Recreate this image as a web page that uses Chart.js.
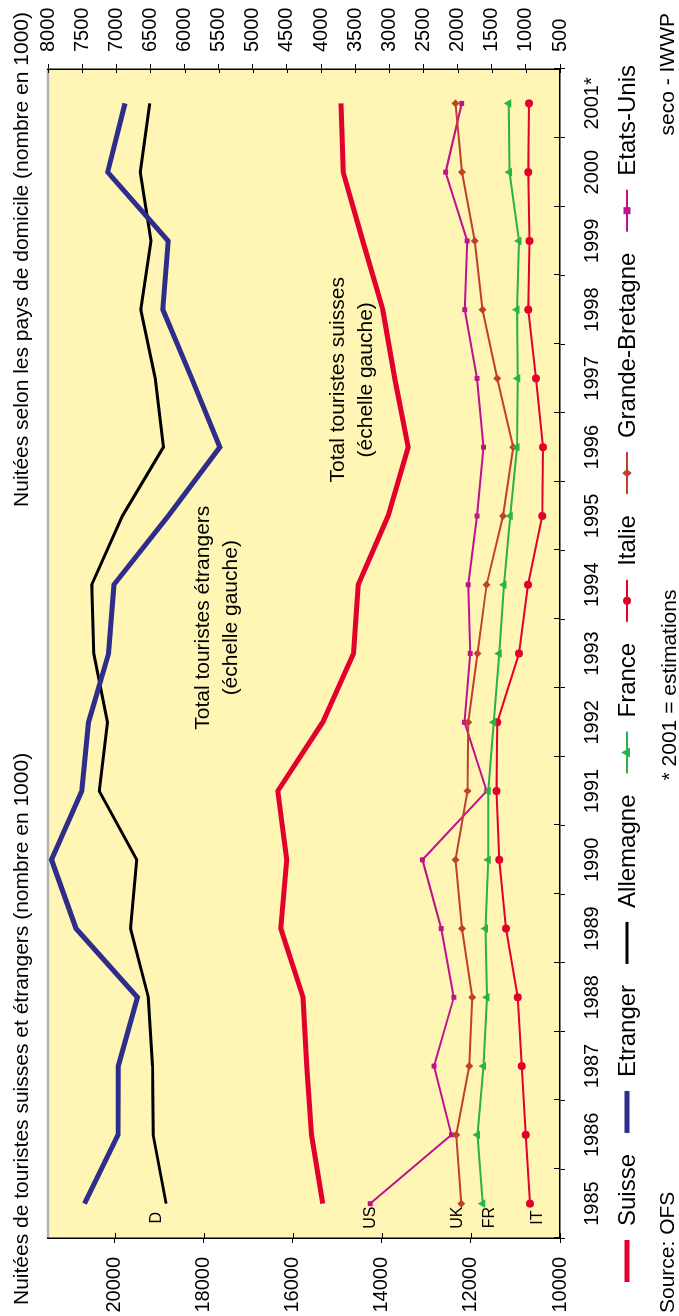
<!DOCTYPE html>
<html>
<head>
<meta charset="utf-8">
<script src="https://cdn.jsdelivr.net/npm/chart.js@4/dist/chart.umd.min.js"></script>
<style>
  html, body { margin: 0; padding: 0; background: #fff; overflow: hidden; }
  #wrap {
    position: absolute; left: 0; top: 0;
    width: 1316px; height: 679px;
    transform-origin: 0 0;
    transform: translateY(1316px) rotate(-90deg);
  }
  canvas { display: block; }
</style>
</head>
<body>
<div id="wrap"><canvas id="nuitees" width="1316" height="679" style="width:1316px;height:679px"></canvas></div>
<script>
const years = ["1985", "1986", "1987", "1988", "1989", "1990", "1991", "1992", "1993",
  "1994", "1995", "1996", "1997", "1998", "1999", "2000", "2001*"];

// left scale (total nights, 1000)
const suisse = [15330, 15580, 15690, 15770, 16270, 16140, 16340, 15330, 14640,
  14530, 13860, 13410, 13710, 13980, 14430, 14870, 14920];
const etranger = [20680, 19930, 19920, 19490, 20870, 21420, 20740, 20590, 20140,
  20020, 18800, 17640, 18270, 18920, 18800, 20160, 19770];

// right scale (by country of residence, 1000)
const allemagne = [6270, 6460, 6470, 6530, 6790, 6700, 7250, 7130, 7330,
  7360, 6910, 6310, 6430, 6640, 6490, 6650, 6510];
const france = [1630, 1710, 1620, 1570, 1590, 1550, 1550, 1470, 1390,
  1320, 1230, 1130, 1120, 1130, 1100, 1240, 1250];
const italie = [940, 1000, 1060, 1120, 1290, 1390, 1430, 1420, 1100,
  970, 760, 750, 850, 965, 945, 965, 955];
const grandeBretagne = [1945, 2020, 1830, 1785, 1935, 2030, 1855, 1845, 1710,
  1575, 1335, 1185, 1420, 1635, 1750, 1935, 2030];
const etatsUnis = [3280, 2090, 2345, 2055, 2240, 2515, 1575, 1900, 1815,
  1845, 1715, 1620, 1715, 1895, 1860, 2175, 1940];

const leftTicks = [10000, 12000, 14000, 16000, 18000, 20000];

const FONT = "'Liberation Sans', Arial, Helvetica, sans-serif";
const RED = "#e3002c";
const BLUE = "#2e2d8a";
const GREEN = "#2ab24a";
const BROWN = "#c0402e";
const MAGENTA = "#c0128c";

const notes = [
  { lines: ["Total touristes étrangers", "(échelle gauche)"], at: 8.52, value: 17690 },
  { lines: ["Total touristes suisses", "(échelle gauche)"], at: 11.98, value: 14670 },
];

function marker(ctx, style, x, y, r) {
  ctx.beginPath();
  if (style === "circle") {
    ctx.arc(x, y, r, 0, Math.PI * 2);
  } else if (style === "triangle") {
    ctx.moveTo(x, y - r * 1.15);
    ctx.lineTo(x + r, y + r * 0.6);
    ctx.lineTo(x - r, y + r * 0.6);
    ctx.closePath();
  } else if (style === "rectRot") {
    ctx.moveTo(x, y - r * 1.2);
    ctx.lineTo(x + r, y);
    ctx.lineTo(x, y + r * 1.2);
    ctx.lineTo(x - r, y);
    ctx.closePath();
  } else if (style === "rect") {
    ctx.rect(x - r, y - r, r * 2, r * 2);
  } else {
    return;
  }
  ctx.fill();
}

const decor = {
  id: "decor",
  beforeDraw(chart) {
    const { ctx, chartArea: a } = chart;
    ctx.save();
    ctx.fillStyle = "#fff";
    ctx.fillRect(0, 0, chart.width, chart.height);
    ctx.fillStyle = "#fff5b4";
    ctx.fillRect(a.left, a.top, a.right - a.left, a.bottom - a.top);
    ctx.strokeStyle = "#b4b4b4";
    ctx.lineWidth = 2.5;
    ctx.beginPath();
    ctx.moveTo(a.left, a.top);
    ctx.lineTo(a.right, a.top);
    ctx.stroke();
    ctx.restore();
  },
  afterDraw(chart) {
    const { ctx, chartArea: a, scales } = chart;
    ctx.save();

    // inner half of the crossing tick marks
    ctx.strokeStyle = "#000";
    ctx.lineWidth = 1;
    ctx.beginPath();
    for (let i = 0; i <= years.length; i++) {
      const x = Math.round(scales.x.getPixelForValue(i - 0.5)) + 0.5;
      ctx.moveTo(x, a.bottom);
      ctx.lineTo(x, a.bottom - 6);
    }
    scales.y.ticks.forEach(t => {
      const y = Math.round(scales.y.getPixelForValue(t.value)) + 0.5;
      ctx.moveTo(a.left, y);
      ctx.lineTo(a.left + 5, y);
    });
    scales.y1.ticks.forEach(t => {
      const y = Math.round(scales.y1.getPixelForValue(t.value)) + 0.5;
      ctx.moveTo(a.right, y);
      ctx.lineTo(a.right - 4, y);
    });
    ctx.stroke();

    ctx.fillStyle = "#000";
    ctx.textBaseline = "alphabetic";

    // titles
    ctx.font = "21px " + FONT;
    ctx.textAlign = "left";
    ctx.fillText("Nuitées de touristes suisses et étrangers (nombre en 1000)", 11, 28);
    ctx.textAlign = "right";
    ctx.fillText("Nuitées selon les pays de domicile (nombre en 1000)", 1304, 28);

    // notes inside the plot
    ctx.textAlign = "center";
    ctx.textBaseline = "middle";
    ctx.font = "21px " + FONT;
    notes.forEach(n => {
      const x = scales.x.getPixelForValue(n.at);
      const y = scales.y.getPixelForValue(n.value);
      ctx.fillText(n.lines[0], x, y - 14);
      ctx.fillText(n.lines[1], x, y + 14);
    });

    // series tags at the first point
    ctx.font = "16px " + FONT;
    chart.data.datasets.forEach((ds, i) => {
      if (!ds.tag) return;
      const p = chart.getDatasetMeta(i).data[0];
      ctx.fillText(ds.tag, p.x - 14, p.y + ds.tagDy);
    });

    // legend
    ctx.font = "24px " + FONT;
    ctx.textAlign = "left";
    let x = a.left - 44;
    const ly = 627;
    chart.data.datasets.forEach(ds => {
      ctx.strokeStyle = ds.borderColor;
      ctx.fillStyle = ds.borderColor;
      ctx.lineWidth = Math.min(ds.borderWidth, 5);
      ctx.beginPath();
      ctx.moveTo(x, ly);
      ctx.lineTo(x + 42, ly);
      ctx.stroke();
      marker(ctx, ds.pointStyle, x + 21, ly, ds.pointRadius);
      ctx.fillStyle = "#000";
      ctx.fillText(ds.label, x + 56, ly + 1);
      x += 56 + ctx.measureText(ds.label).width + 21;
    });

    // footer
    ctx.font = "21px " + FONT;
    ctx.textAlign = "left";
    ctx.fillText("Source: OFS", 3, 668);
    ctx.textAlign = "center";
    ctx.fillText("* 2001 = estimations", 631, 670);
    ctx.textAlign = "right";
    ctx.fillText("seco - IWWP", 1303, 668);
    ctx.restore();
  }
};

function lineSet(label, data, axis, color, width, style, radius, extra) {
  return Object.assign({
    label: label,
    data: data,
    yAxisID: axis,
    borderColor: color,
    backgroundColor: color,
    borderWidth: width,
    pointStyle: style || "circle",
    pointRadius: style ? radius : 0,
    pointBorderWidth: 0,
    pointBackgroundColor: color,
    tension: 0,
    fill: false,
  }, extra || {});
}

const axisGrid = { display: true, drawOnChartArea: false, drawTicks: true, tickLength: 5, color: "#000", lineWidth: 1 };
const axisBorder = { display: true, color: "#000", width: 1.5 };
const tickFont = { family: FONT, size: 20 };

new Chart("nuitees", {
  type: "line",
  data: {
    labels: years,
    datasets: [
      lineSet("Suisse", suisse, "y", RED, 5, null, 0),
      lineSet("Etranger", etranger, "y", BLUE, 5, null, 0),
      lineSet("Allemagne", allemagne, "y1", "#000", 3, null, 0, { tag: "D", tagDy: -10 }),
      lineSet("France", france, "y1", GREEN, 2, "triangle", 5, { tag: "FR", tagDy: 7 }),
      lineSet("Italie", italie, "y1", RED, 2, "circle", 4, { tag: "IT", tagDy: 8 }),
      lineSet("Grande-Bretagne", grandeBretagne, "y1", BROWN, 2, "rectRot", 4, { tag: "UK", tagDy: -4 }),
      lineSet("Etats-Unis", etatsUnis, "y1", MAGENTA, 2, "rect", 3.5, { tag: "US", tagDy: 0 }),
    ],
  },
  options: {
    responsive: false,
    animation: false,
    devicePixelRatio: 1,
    layout: { padding: { top: 48, left: 0, right: 0, bottom: 0 } },
    plugins: {
      legend: { display: false },
      tooltip: { enabled: false },
      title: { display: false },
    },
    scales: {
      x: {
        type: "category",
        offset: true,
        grid: Object.assign({ offset: true }, axisGrid),
        border: axisBorder,
        ticks: { color: "#000", font: tickFont, padding: 15, maxRotation: 0, autoSkip: false },
        afterFit(s) { s.height = 119; },
      },
      y: {
        position: "left",
        min: 10000,
        max: 21500,
        grid: axisGrid,
        border: axisBorder,
        afterBuildTicks(s) { s.ticks = leftTicks.map(v => ({ value: v })); },
        ticks: { color: "#000", font: tickFont, padding: 14, callback: v => String(v) },
        afterFit(s) { s.width = 78; },
      },
      y1: {
        position: "right",
        min: 500,
        max: 8000,
        grid: axisGrid,
        border: axisBorder,
        ticks: { color: "#000", font: tickFont, padding: 12, stepSize: 500, callback: v => String(v) },
        afterFit(s) { s.width = 69; },
      },
    },
  },
  plugins: [decor],
});
</script>
</body>
</html>
